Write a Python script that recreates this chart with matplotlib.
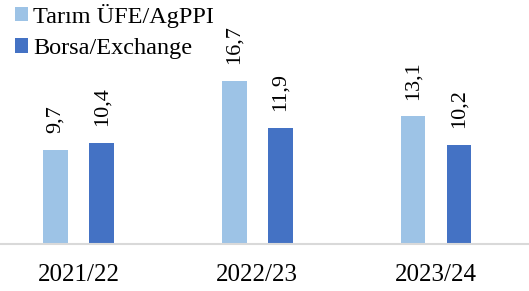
import matplotlib.pyplot as plt
import numpy as np

plt.rcParams['font.family'] = ['Liberation Serif', 'DejaVu Serif']

# veriler
yillar = ['2021/22', '2022/23', '2023/24']
tarim_ufe = [9.7, 16.7, 13.1]
borsa = [10.4, 11.9, 10.2]
seri_adlari = ['Tarım ÜFE/AgPPI', 'Borsa/Exchange']

fig = plt.figure(figsize=(5.29, 2.91), dpi=100)
ax = fig.add_axes([0, 0.16, 1, 0.84])

x = np.arange(len(yillar))
w = 0.137
off = 0.129
b1 = ax.bar(x - off, tarim_ufe, w, color='#9DC3E6', label=seri_adlari[0])
b2 = ax.bar(x + off, borsa, w, color='#4472C4', label=seri_adlari[1])

# etiketler (virgul ondalik)
for bars in (b1, b2):
    for p in bars:
        h = p.get_height()
        ax.annotate(f"{h:.1f}".replace('.', ','), (p.get_x() + p.get_width() / 2, h),
                    xytext=(0, 12), textcoords='offset points', rotation=90,
                    ha='center', va='bottom', fontsize=16)

ax.set_xlim(-0.44, 2.52)
ax.set_ylim(0, 25)
ax.set_xticks(x)
ax.set_xticklabels(yillar, fontsize=18)
ax.tick_params(axis='x', length=0, pad=14)
ax.set_yticks([])
for s in ['top', 'left', 'right']:
    ax.spines[s].set_visible(False)
ax.spines['bottom'].set_color('#D9D9D9')
ax.spines['bottom'].set_linewidth(1.5)

ax.legend(loc='upper left', bbox_to_anchor=(0.0, 1.045), frameon=False, fontsize=17.5,
          handlelength=0.55, handleheight=0.55, handletextpad=0.2, labelspacing=0.42,
          borderaxespad=0.2)

fig.savefig('out.png', dpi=100)
